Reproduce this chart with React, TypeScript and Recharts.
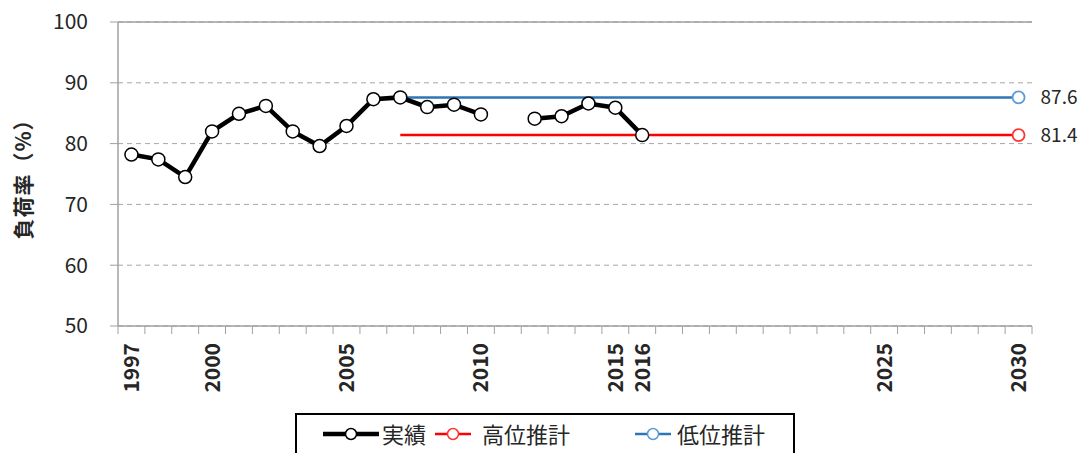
import React from "react";
import {
  CartesianGrid,
  LabelList,
  Line,
  LineChart,
  ReferenceLine,
  XAxis,
  YAxis,
} from "recharts";

const YEARS = [
  1997, 1998, 1999, 2000, 2001, 2002, 2003, 2004, 2005, 2006, 2007, 2008,
  2009, 2010, 2011, 2012, 2013, 2014, 2015, 2016, 2017, 2018, 2019, 2020,
  2021, 2022, 2023, 2024, 2025, 2026, 2027, 2028, 2029, 2030,
];

// 実績 (actual load factor, %); 2011 missing
const ACTUAL: (number | null)[] = [
  78.2, 77.4, 74.5, 82.0, 84.9, 86.2, 82.0, 79.6, 82.9, 87.3, 87.6, 86.0,
  86.4, 84.8, null, 84.1, 84.5, 86.6, 85.9, 81.4,
];

// 推計: start year and 2030 value
const HIGH: Record<number, number> = { 2007: 81.4, 2030: 81.4 };
const LOW: Record<number, number> = { 2007: 87.6, 2030: 87.6 };

const SHOWN_YEARS = [1997, 2000, 2005, 2010, 2015, 2016, 2025, 2030];
const Y_TICKS = [50, 60, 70, 80, 90, 100];

const data = YEARS.map((year, i) => ({
  year,
  actual: i < ACTUAL.length ? ACTUAL[i] : null,
  high: HIGH[year] ?? null,
  low: LOW[year] ?? null,
}));

const FONT = "'Noto Sans CJK JP', 'Noto Sans', sans-serif";
const W = 1082;
const H = 408;
const M = { top: 22, right: 50, bottom: 0, left: 0 };
const Y_AXIS_W = 118;
const PLOT_BOTTOM = 326;
const BAND = (W - M.right - Y_AXIS_W) / YEARS.length;
const AXIS_GRAY = "#a0a0a0";

const YearTick = (props: any) => {
  const { x, payload, index } = props;
  const show = SHOWN_YEARS.includes(payload.value);
  const last = index === YEARS.length - 1;
  return (
    <g>
      <line x1={x - BAND / 2} x2={x - BAND / 2} y1={PLOT_BOTTOM} y2={PLOT_BOTTOM + 8} stroke={AXIS_GRAY} />
      {last && (
        <line x1={x + BAND / 2} x2={x + BAND / 2} y1={PLOT_BOTTOM} y2={PLOT_BOTTOM + 8} stroke={AXIS_GRAY} />
      )}
      {show && (
        <text
          transform={`translate(${x},${PLOT_BOTTOM + 17}) rotate(-90)`}
          textAnchor="end"
          dy="0.36em"
          fontSize={21}
          fontWeight={600}
          fontFamily={FONT}
          fill="#262626"
        >
          {payload.value}
        </text>
      )}
    </g>
  );
};

const endDot = (stroke: string) => (props: any) => {
  const { cx, cy, index } = props;
  if (index !== YEARS.length - 1 || cy == null) return <g key={index} />;
  return <circle key={index} cx={cx} cy={cy} r={6} fill="#fff" stroke={stroke} strokeWidth={1.8} />;
};

const endLabel = (props: any) => {
  const { x, y, index, value } = props;
  if (index !== YEARS.length - 1 || value == null) return null;
  return (
    <text x={x + 22} y={y} dy="0.36em" fontSize={19} fontFamily={FONT} fill="#262626">
      {Number(value).toFixed(1)}
    </text>
  );
};

const YTitle = () => (
  <text
    transform={`translate(23,${(M.top + PLOT_BOTTOM) / 2}) rotate(-90)`}
    textAnchor="middle"
    dy="0.36em"
    fontSize={21}
    fontWeight={700}
    letterSpacing={1}
    fontFamily={FONT}
    fill="#262626"
  >
    負荷率（%）
  </text>
);

const LegendIcon = ({ color, marker, width, thick }: { color: string; marker: string; width: number; thick: number }) => (
  <svg width={width} height={16} style={{ display: "block" }}>
    <line x1={0} x2={width} y1={8} y2={8} stroke={color} strokeWidth={thick} />
    <circle cx={width / 2} cy={8} r={5.5} fill="#fff" stroke={marker} strokeWidth={1.5} />
  </svg>
);

const legendText: React.CSSProperties = {
  position: "absolute",
  top: 3,
  fontSize: 22,
  fontFamily: FONT,
  color: "#262626",
  lineHeight: "30px",
  whiteSpace: "nowrap",
};

export default function App() {
  return (
    <div style={{ position: "relative", width: W, height: 453, overflow: "hidden" }}>
      <style>{"html,body{margin:0;padding:0;overflow:hidden}"}</style>
      <LineChart width={W} height={H} data={data} margin={M}>
        <CartesianGrid vertical={false} stroke="#a6a6a6" strokeDasharray="5 4" />
        <XAxis
          dataKey="year"
          type="category"
          interval={0}
          padding={{ left: BAND / 2, right: BAND / 2 }}
          height={H - PLOT_BOTTOM}
          tickLine={false}
          axisLine={{ stroke: AXIS_GRAY, strokeWidth: 1.5 }}
          tick={<YearTick />}
        />
        <YAxis
          domain={[50, 100]}
          ticks={Y_TICKS}
          width={Y_AXIS_W}
          tickSize={8}
          tickMargin={22}
          tickLine={{ stroke: AXIS_GRAY }}
          axisLine={{ stroke: AXIS_GRAY, strokeWidth: 1.5 }}
          tick={{ fontSize: 21, fontFamily: FONT, fill: "#262626" }}
          label={{ content: <YTitle /> }}
        />
        <YAxis
          yAxisId="r"
          orientation="right"
          domain={[50, 100]}
          width={0}
          tick={false}
          tickLine={false}
          axisLine={{ stroke: AXIS_GRAY, strokeWidth: 1.5 }}
        />
        <ReferenceLine y={100} stroke={AXIS_GRAY} strokeWidth={1.5} />
        <Line
          dataKey="high"
          stroke="#ff0000"
          strokeWidth={2.5}
          connectNulls
          dot={endDot("#ff3333")}
          activeDot={false}
          isAnimationActive={false}
        >
          <LabelList dataKey="high" content={endLabel} />
        </Line>
        <Line
          dataKey="low"
          stroke="#2e75b6"
          strokeWidth={2.5}
          connectNulls
          dot={endDot("#5b9bd5")}
          activeDot={false}
          isAnimationActive={false}
        >
          <LabelList dataKey="low" content={endLabel} />
        </Line>
        <Line
          dataKey="actual"
          stroke="#000"
          strokeWidth={4.5}
          dot={{ r: 6.5, fill: "#fff", stroke: "#000", strokeWidth: 1.5 }}
          activeDot={false}
          isAnimationActive={false}
        />
      </LineChart>
      <div
        style={{
          position: "absolute",
          left: 295,
          top: 413,
          width: 496,
          height: 60,
          border: "2px solid #000",
          background: "#fff",
        }}
      >
        <div style={{ position: "absolute", left: 26, top: 11 }}>
          <LegendIcon color="#000" marker="#000" width={56} thick={4.5} />
        </div>
        <div style={{ ...legendText, left: 85 }}>実績</div>
        <div style={{ position: "absolute", left: 138, top: 11 }}>
          <LegendIcon color="#ff0000" marker="#ff3333" width={36} thick={2.5} />
        </div>
        <div style={{ ...legendText, left: 185 }}>高位推計</div>
        <div style={{ position: "absolute", left: 338, top: 11 }}>
          <LegendIcon color="#2e75b6" marker="#5b9bd5" width={36} thick={2.5} />
        </div>
        <div style={{ ...legendText, left: 380 }}>低位推計</div>
      </div>
    </div>
  );
}
